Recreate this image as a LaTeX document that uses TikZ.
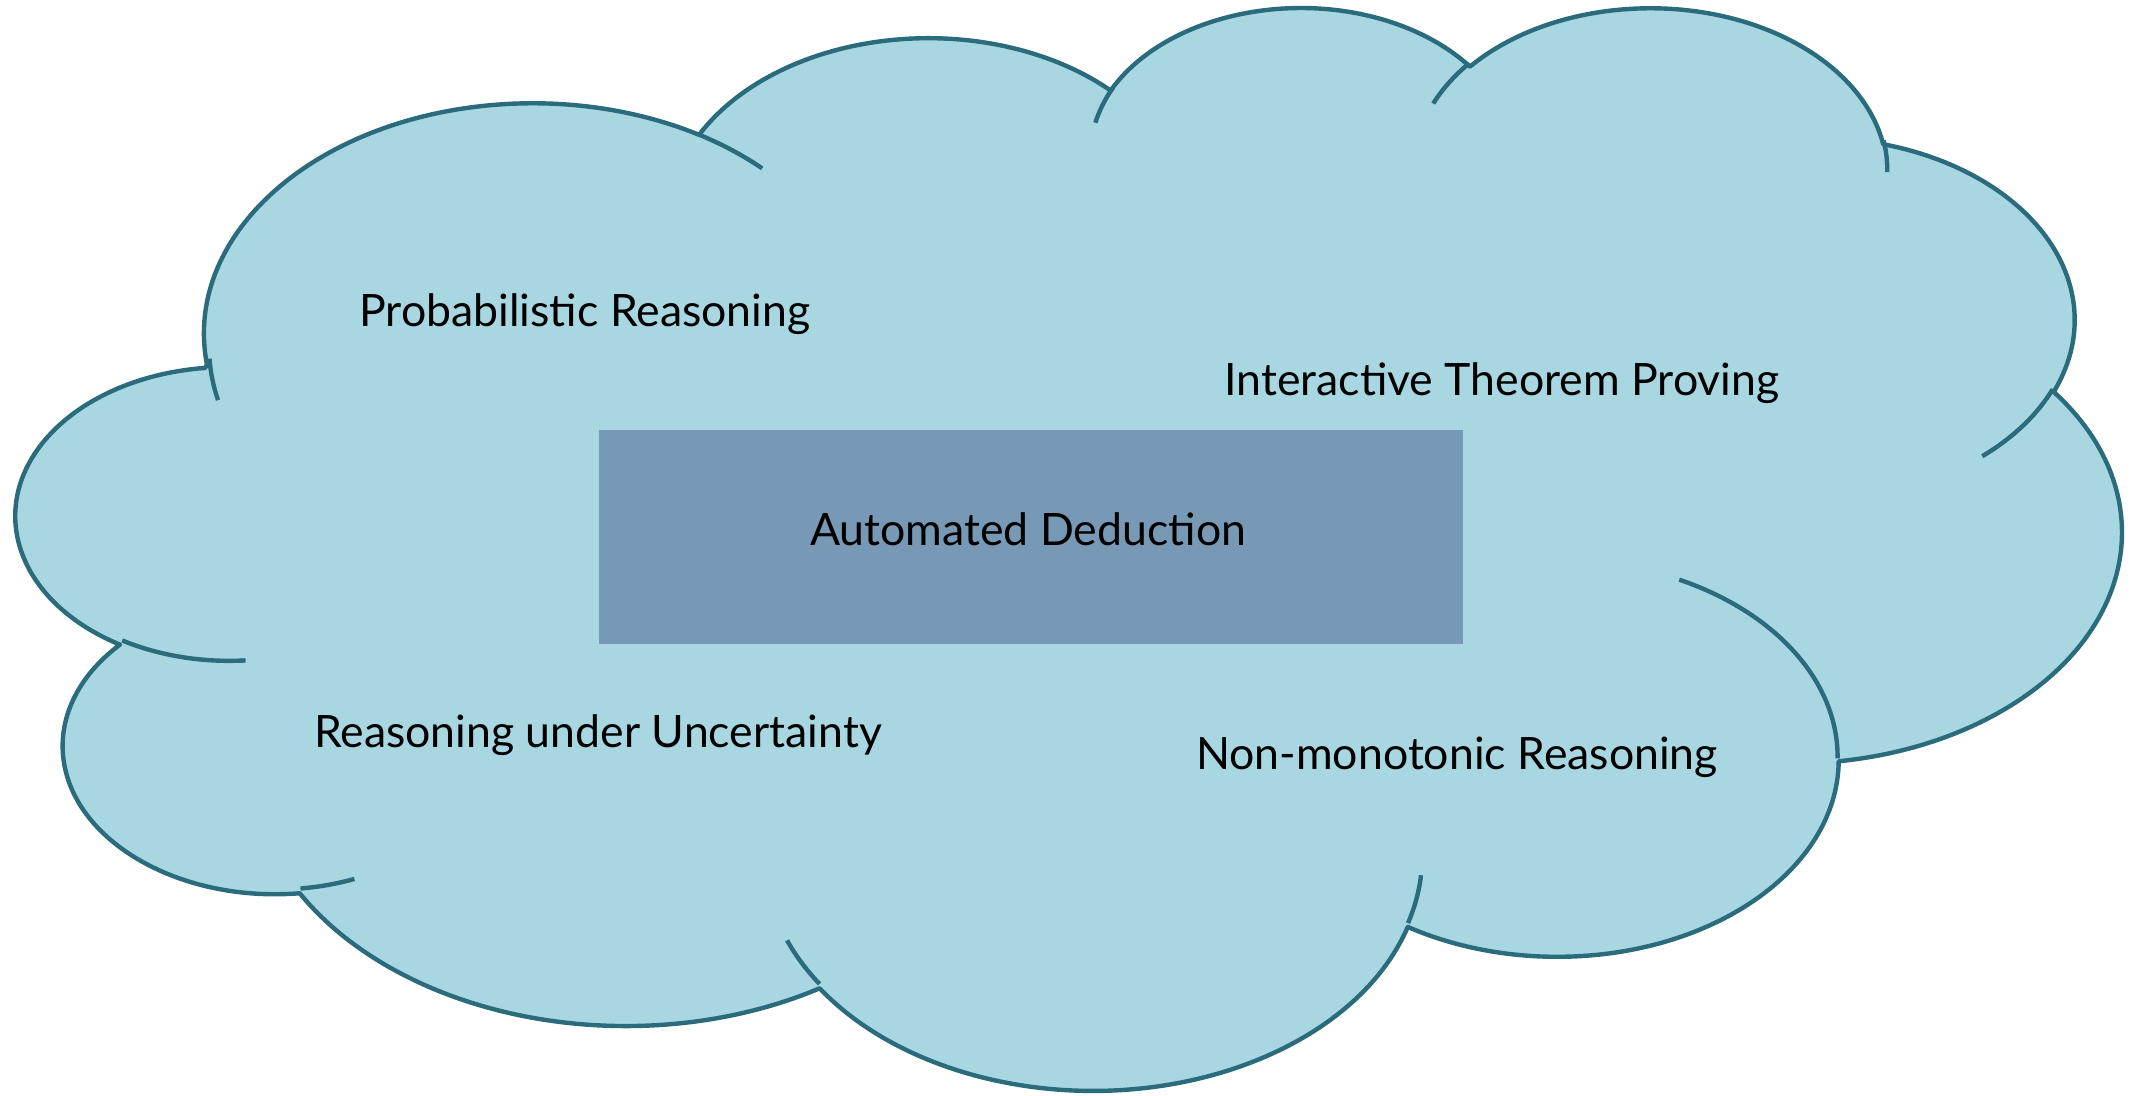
\documentclass[tikz,border=0pt]{standalone}
\usepackage{fontspec}
\setmainfont{Lato}
\definecolor{cloudfill}{HTML}{A8D7E2}
\definecolor{cloudedge}{HTML}{2A6B7C}
\definecolor{boxfill}{HTML}{7799B6}
\tikzset{
  % elliptical arc given by radii, visual start angle and sweep (degrees)
  ddarc/.style n args={4}{insert path={arc[x radius=#1, y radius=#2,
      start angle={atan2((#1)*sin(#3),(#2)*cos(#3))},
      delta angle={mod(atan2((#1)*sin((#3)+(#4)),(#2)*cos((#3)+(#4)))-atan2((#1)*sin(#3),(#2)*cos(#3))+720,360)}]}},
  cloudline/.style={draw=cloudedge, line width=2.2pt},
  txt/.style={font=\fontsize{22.3}{26}\selectfont, text=black, inner sep=0pt, anchor=base},
  dedbox/.style={fill=boxfill, draw=none, inner sep=0pt}
}
\begin{document}
\begin{tikzpicture}[x=0.5pt,y=-0.5pt]
\useasboundingbox (0,0) rectangle (2139,1096);

% cloud outline, lobes chained as elliptical arcs
\begin{scope}[shift={(17,4.5)}, x=2.4352pt, y=-1.2528pt]
  \filldraw[fill=cloudfill, cloudline, line join=round] (39.00,143.70)
    [ddarc={67.53}{91.90}{-190.48748}{123.78053}]
    [ddarc={53.33}{72.67}{-144.10238}{89.94523}]
    [ddarc={43.65}{59.45}{-145.80792}{99.72302}]
    [ddarc={48.57}{65.95}{-130.98607}{117.24173}]
    [ddarc={53.33}{72.73}{-78.70888}{109.02692}]
    [ddarc={67.75}{92.20}{-46.26725}{130.269}]
    [ddarc={57.85}{78.67}{0.62502}{114.03333}]
    [ddarc={67.52}{92.15}{22.4516}{115.17255}]
    [ddarc={77.20}{105.43}{66.24263}{75.71102}]
    [ddarc={43.60}{59.18}{-274.94208}{146.73557}]
    [ddarc={43.45}{59.45}{-246.8285}{152.51885}]
    -- cycle;
  % inner creases between the lobes
  \draw[cloudline]
    (46.93,261.77) [ddarc={43.45}{59.45}{86.742}{26.4295}]
    (69.28,348.99) [ddarc={43.60}{59.18}{73.6105}{11.4475}]
    (164.78,390.90) [ddarc={67.52}{92.15}{137.6242}{14.0811}]
    (288.27,347.51) [ddarc={67.52}{92.15}{6.4533}{15.9984}]
    (341.29,229.54) [ddarc={57.85}{78.67}{-70.2924}{70.9174}]
    (417.98,153.54) [ddarc={53.33}{72.73}{30.3180}{27.7515}]
    (383.24,54.26) [ddarc={48.57}{65.95}{-13.7443}{14.8589}]
    (290.78,39.52) [ddarc={48.57}{65.95}{-149.1815}{18.1954}]
    (221.41,47.20) [ddarc={43.65}{59.45}{-163.4943}{17.6864}]
    (140.00,51.92) [ddarc={67.53}{91.90}{-66.7070}{12.3194}]
    (41.27,157.89) [ddarc={67.53}{91.90}{162.0412}{13.9333}];
\end{scope}

% central box
\node[dedbox, minimum width=432pt, minimum height=107pt] (adbox) at (1031,537) {};

% labels
\node[txt] (pr)  at (585,327)  {Probabilistic Reasoning};
\node[txt] (itp) at (1502,395) {Interactive Theorem Proving};
\node[txt] (ad)  at (1028,545) {Automated Deduction};
\node[txt] (ruu) at (598,747)  {Reasoning under Uncertainty};
\node[txt] (nmr) at (1457,769) {Non-monotonic Reasoning};
\end{tikzpicture}
\end{document}
